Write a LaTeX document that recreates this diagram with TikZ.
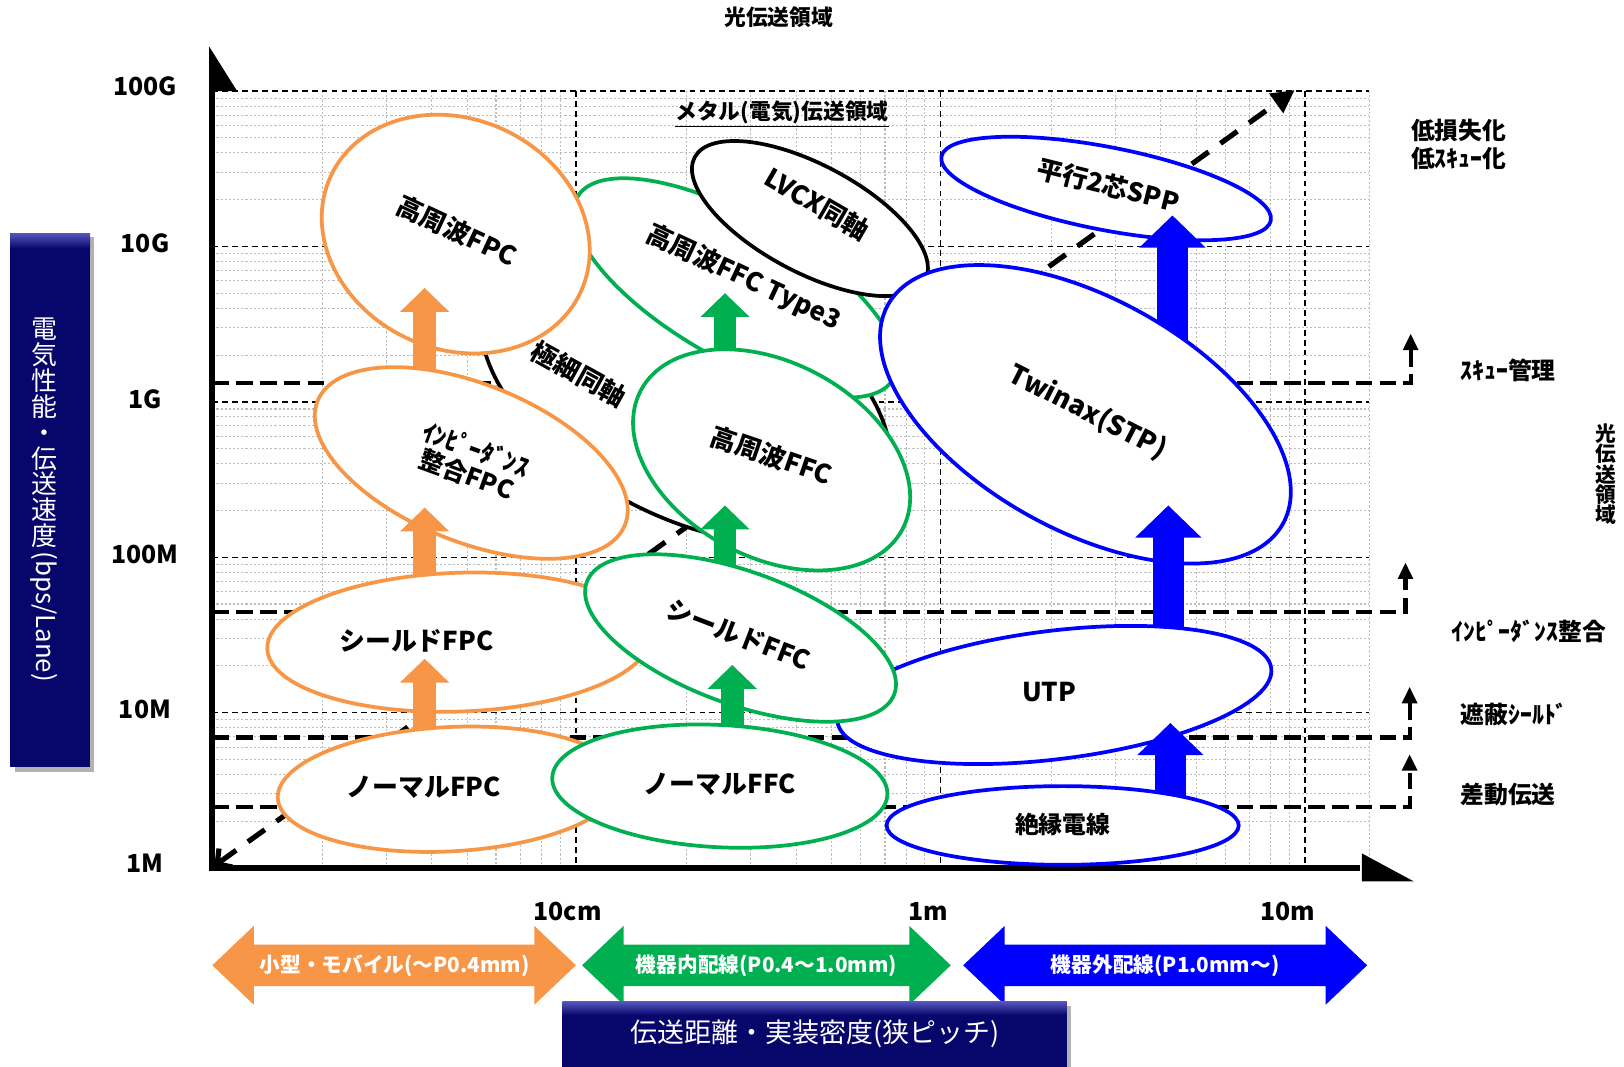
\documentclass[tikz,border=0pt]{standalone}
\usepackage{fontspec}
\setmainfont{Noto Sans CJK JP}
\usetikzlibrary{arrows.meta,shapes.geometric,calc}
\definecolor{cor}{HTML}{F79646}
\definecolor{cgr}{HTML}{00B050}
\definecolor{cbl}{HTML}{0000FF}
\definecolor{cnv}{HTML}{06066B}
\definecolor{cnvl}{HTML}{5656BE}
\definecolor{cgrid}{HTML}{BDBDBD}
\tikzset{
  ell/.style={ellipse, draw=#1, fill=white, line width=1.8pt, inner sep=0pt, outer sep=0pt},
  lbl/.style={font=\fontsize{12.5}{14}\selectfont\bfseries, inner sep=0pt, align=center},
  axlbl/.style={font=\fontsize{12}{14}\selectfont\bfseries, inner sep=0pt},
  sidelbl/.style={font=\fontsize{11.5}{13.5}\selectfont\bfseries, inner sep=0pt},
  arrlbl/.style={font=\fontsize{10}{12}\selectfont\bfseries, text=white, inner sep=0pt},
  minorgrid/.style={cgrid, line width=0.5pt, dash pattern=on 1pt off 1pt},
  majorgrid/.style={black, line width=0.7pt, dash pattern=on 2.8pt off 2pt},
  thickdash/.style={black, line width=2pt, dash pattern=on 8pt off 3.5pt, -{Triangle[width=7pt,length=8pt]}},
  oarr/.style={cor, line width=11pt, -{Triangle[width=23pt,length=11.5pt]}},
  garr/.style={cgr, line width=11pt, -{Triangle[width=23pt,length=11.5pt]}},
  barr/.style={cbl, line width=15pt, -{Triangle[width=31pt,length=15.5pt]}},
}
\begin{document}
\begin{tikzpicture}[x=0.5pt,y=-0.5pt]
\useasboundingbox (0,0) rectangle (1568,1030);
\fill[white] (0,0) rectangle (1568,1030);

% ---------- grid ----------
\foreach \d in {0,1,2}{
  \foreach \k in {2,...,9}{
    \pgfmathsetmacro\xx{205+352*\d+352*log10(\k)}
    \draw[minorgrid] (\xx,88) -- (\xx,838);
  }
}
\draw[minorgrid] (1322,88) -- (1322,838);
\foreach \d in {0,...,4}{
  \foreach \k in {2,...,9}{
    \pgfmathsetmacro\yy{838-150*\d-150*log10(\k)}
    \draw[minorgrid] (205,\yy) -- (1322,\yy);
  }
}
\foreach \yy in {88,238,388,538,688}{
  \draw[majorgrid] (205,\yy) -- (1322,\yy);
}
\foreach \xx in {556,908,1260}{
  \draw[majorgrid] (\xx,88) -- (\xx,838);
}

% ---------- thick dashed step lines ----------
\coordinate (sk0) at (205,370);  \coordinate (sk1) at (1362,322);
\coordinate (im0) at (205,591);  \coordinate (im1) at (1357,543);
\coordinate (sh0) at (205,712);  \coordinate (sh1) at (1361,663);
\coordinate (df0) at (205,779);  \coordinate (df1) at (1361,728);
\draw[thickdash] (sk0) -| (sk1);
\draw[thickdash] (im0) -| (im1);
\draw[thickdash] (sh0) -| (sh1);
\draw[thickdash] (df0) -| (df1);

% ---------- diagonal trend arrow ----------
\coordinate (dg0) at (207,836);
\coordinate (dg1) at (1250,87);
\draw[black, line width=2.5pt, dash pattern=on 10pt off 7pt,
  {Straight Barb[length=5pt,width=11pt]}-{Triangle[width=11pt,length=11pt]}] (dg0) -- (dg1);

% ---------- axes ----------
\coordinate (orig) at (205,841);
\coordinate (ytop) at (205,88);
\coordinate (xo) at (202,838);
\coordinate (xend) at (1313,838);
\draw[line width=3pt] (orig) -- (ytop);
\draw[line width=3pt] (xo) -- (xend);
\fill (202,45) -- (202,88) -- (229,88) -- cycle;
\fill (1315,824) -- (1315,851) -- (1365,851) -- cycle;

% ---------- ellipses and block arrows ----------
\node[ell=black, minimum width=215pt, minimum height=120pt, rotate=-28] (kgc) at (662,378) {};
\node[ell=cgr, minimum width=176pt, minimum height=68pt, rotate=-30] (t3) at (710,278) {};
\node[ell=cor, minimum width=133pt, minimum height=111pt, rotate=-25] (hfpc) at (440,226) {};
\node[ell=black, minimum width=126pt, minimum height=52pt, rotate=-28] (lvcx) at (782,211) {};
\node[ell=cbl, minimum width=162pt, minimum height=40pt, rotate=-11] (spp) at (1068,182) {};

\coordinate (ba3s) at (1132,330); \coordinate (ba3e) at (1132,208);
\coordinate (ga3s) at (700,360);  \coordinate (ga3e) at (700,283);
\coordinate (oa3s) at (410,380);  \coordinate (oa3e) at (410,278);
\draw[barr] (ba3s) -- (ba3e);
\draw[garr] (ga3s) -- (ga3e);
\draw[oarr] (oa3s) -- (oa3e);

\node[ell=cor, minimum width=160pt, minimum height=76pt, rotate=-22] (imp) at (455,447) {};
\node[ell=cgr, minimum width=143pt, minimum height=94pt, rotate=-28] (hffc) at (745,444) {};
\node[ell=cbl, minimum width=218pt, minimum height=112pt, rotate=-29] (twx) at (1048,400) {};

\coordinate (oa2s) at (410,570); \coordinate (oa2e) at (410,490);
\coordinate (ga2s) at (700,565); \coordinate (ga2e) at (700,488);
\coordinate (ba2s) at (1128,628); \coordinate (ba2e) at (1128,488);
\draw[oarr] (oa2s) -- (oa2e);
\draw[garr] (ga2s) -- (ga2e);
\draw[barr] (ba2s) -- (ba2e);

\node[ell=cbl, minimum width=211pt, minimum height=62pt, rotate=7] (utp) at (1018,671) {};
\node[ell=cor, minimum width=185pt, minimum height=67pt, rotate=2] (sfpc) at (443,620) {};
\node[ell=cgr, minimum width=158pt, minimum height=64pt, rotate=-20] (sffc) at (715,616) {};

\coordinate (oa1s) at (410,715); \coordinate (oa1e) at (410,636);
\coordinate (ga1s) at (707,715); \coordinate (ga1e) at (707,642);
\coordinate (ba1s) at (1130,778); \coordinate (ba1e) at (1130,698);
\draw[oarr] (oa1s) -- (oa1e);
\draw[garr] (ga1s) -- (ga1e);
\draw[barr] (ba1s) -- (ba1e);

\node[ell=cor, minimum width=166pt, minimum height=60pt, rotate=3] (nfpc) at (434,762) {};
\node[ell=cgr, minimum width=162pt, minimum height=59pt, rotate=-3] (nffc) at (695,759) {};
\node[ell=cbl, minimum width=170pt, minimum height=38pt] (zet) at (1026,797) {};

% ---------- ellipse labels ----------
\node[lbl, rotate=-25] (thfpc) at (441,223) {高周波FPC};
\node[lbl, rotate=-20, font=\fontsize{12}{13}\selectfont\bfseries] (timp) at (455,446) {ｲﾝﾋﾟｰﾀﾞﾝｽ\\整合FPC};
\node[lbl] (tsfpc) at (402,619) {シールドFPC};
\node[lbl] (tnfpc) at (409,760) {ノーマルFPC};
\node[lbl, rotate=-29] (tkgc) at (559,361) {極細同軸};
\node[lbl, rotate=-25] (tt3) at (718,268) {高周波FFC Type3};
\node[lbl, rotate=-30] (tlvcx) at (789,197) {LVCX同軸};
\node[lbl, rotate=-19] (thffc) at (745,440) {高周波FFC};
\node[lbl, rotate=-21] (tsffc) at (713,613) {シールドFFC};
\node[lbl] (tnffc) at (695,757) {ノーマルFFC};
\node[lbl, rotate=-14] (tspp) at (1070,179) {平行2芯SPP};
\node[lbl, rotate=-27, font=\fontsize{13}{14}\selectfont\bfseries] (ttwx) at (1050,398) {Twinax(STP)};
\node[lbl] (tutp) at (1013,668) {UTP};
\node[lbl, font=\fontsize{11.5}{13}\selectfont\bfseries] (tzet) at (1026,796) {絶縁電線};

% ---------- top labels ----------
\node[font=\fontsize{10.5}{12}\selectfont\bfseries, inner sep=0pt] (optop) at (752,17) {光伝送領域};
\node[font=\fontsize{10.5}{12}\selectfont\bfseries, inner sep=0pt] (metal) at (755,110) {\underline{メタル(電気)伝送領域}};

% ---------- right labels ----------
\node[sidelbl, align=left, anchor=west, font=\fontsize{11.5}{13.5}\selectfont\bfseries] (lowloss) at (1362,139) {低損失化\\低ｽｷｭｰ化};
\node[sidelbl] (skew) at (1456,358) {ｽｷｭｰ管理};
\node[font=\fontsize{10}{9.8}\selectfont\bfseries, align=center, inner sep=0pt] (optv) at (1550,458) {光\\伝\\送\\領\\域};
\node[sidelbl] (impm) at (1476,610) {ｲﾝﾋﾟｰﾀﾞﾝｽ整合};
\node[sidelbl] (shld) at (1462,690) {遮蔽ｼｰﾙﾄﾞ};
\node[sidelbl] (diff) at (1456,767) {差動伝送};

% ---------- y axis labels ----------
\node[axlbl] (y100g) at (140,83) {100G};
\node[axlbl] (y10g) at (140,235) {10G};
\node[axlbl] (y1g) at (140,385) {1G};
\node[axlbl] (y100m) at (140,535) {100M};
\node[axlbl] (y10m) at (140,685) {10M};
\node[axlbl] (y1m) at (140,833) {1M};

% ---------- x axis labels ----------
\node[axlbl] (x10cm) at (548,880) {10cm};
\node[axlbl] (x1m) at (896,880) {1m};
\node[axlbl] (x10m) at (1243,880) {10m};

% ---------- bottom double arrows ----------
\fill[cor] (205,932) -- (245,894) -- (245,912) -- (516,912) -- (516,894) -- (556,932) -- (516,970) -- (516,952) -- (245,952) -- (245,970) -- cycle;
\fill[cgr] (562,932) -- (602,894) -- (602,912) -- (878,912) -- (878,894) -- (918,932) -- (878,970) -- (878,952) -- (602,952) -- (602,970) -- cycle;
\fill[cbl] (930,932) -- (970,894) -- (970,912) -- (1280,912) -- (1280,894) -- (1320,932) -- (1280,970) -- (1280,952) -- (970,952) -- (970,970) -- cycle;
\node[arrlbl] (amob) at (381,932) {小型・モバイル(～P0.4mm)};
\node[arrlbl] (ain) at (740,932) {機器内配線(P0.4～1.0mm)};
\node[arrlbl] (aout) at (1125,932) {機器外配線(P1.0mm～)};

% ---------- navy boxes ----------
\fill[black!30] (14,229) rectangle (91,745);
\fill[cnv] (10,225) rectangle (87,741);
\shade[top color=cnvl, bottom color=cnv] (10,225) rectangle (87,240);
\node[font=\fontsize{12.5}{12.5}\selectfont, text=white, align=center, inner sep=0pt] (ylab) at (43,418) {電\\気\\性\\能\\・\\伝\\送\\速\\度};
\node[font=\fontsize{12.5}{12.5}\selectfont, text=white, rotate=-90, anchor=west, inner sep=0pt] (ylab2) at (43,532) {(bps/Lane)};

\fill[black!30] (547,971) rectangle (1034,1034);
\fill[cnv] (543,967) rectangle (1030,1034);
\shade[top color=cnvl, bottom color=cnv] (543,967) rectangle (1030,980);
\node[font=\fontsize{13}{13}\selectfont, text=white, inner sep=0pt] (xlab) at (787,998) {伝送距離・実装密度(狭ピッチ)};
\end{tikzpicture}
\end{document}
